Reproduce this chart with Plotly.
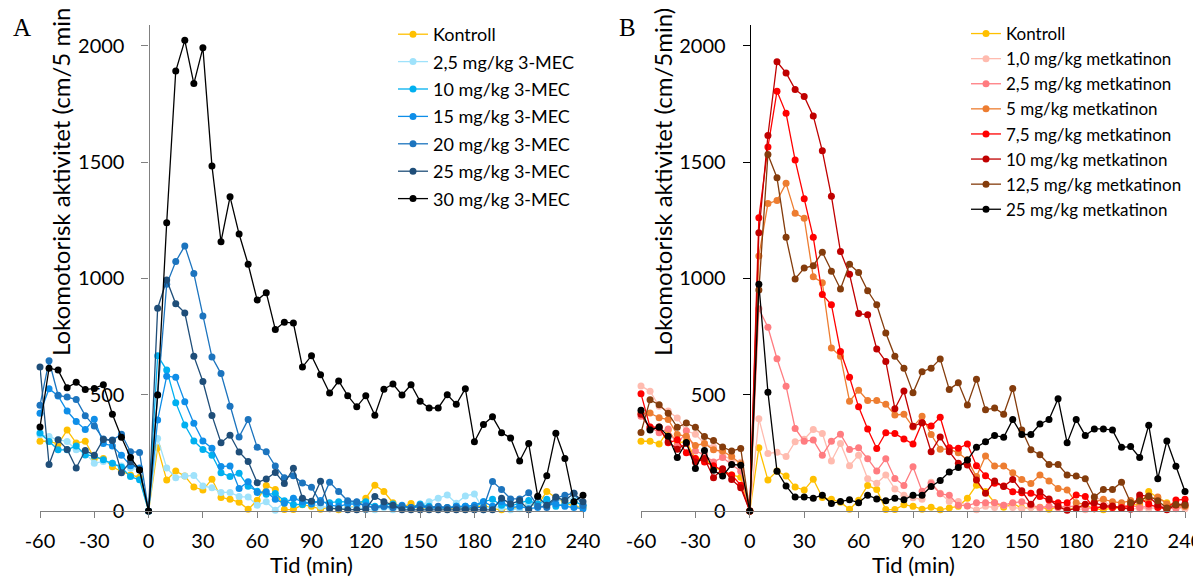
import plotly.graph_objects as go

# Tid (min), -60 .. 240 in steps of 5
tid = list(range(-60, 245, 5))
tick_vals = [-60, -30, 0, 30, 60, 90, 120, 150, 180, 210, 240]
tick_text = ["-60", "-30", "0", "30", "60", "90", "120", "150", "180", "210", "240"]

# Panel A - 3-MEC
kontroll = [300, 300, 288, 348, 292, 300, 226, 226, 190, 170, 155, 145, 0,
            272, 133, 172, 150, 103, 90, 137, 58, 50, 38,
            7, 46, 110, 92, 6, 6, 27, 20, 8, 16,
            5, 13, 20, 55, 111, 84, 36, 16, 32, 13,
            16, 16, 8, 16, 8, 13, 25, 10, 5, 13,
            13, 28, 25, 84, 57, 36, 20, 16]
mec_2_5 = [328, 320, 306, 299, 263, 249, 205, 213, 205, 194, 184, 177, 0,
           312, 185, 143, 150, 153, 108, 100, 80, 80, 62,
           60, 25, 40, 3, 40, 55, 50, 30, 20, 15,
           10, 12, 18, 5, 5, 15, 5, 15, 10, 25,
           40, 55, 69, 33, 65, 73, 5, 20, 15, 5,
           10, 30, 20, 45, 40, 55, 50, 20]
mec_10 = [335, 299, 263, 263, 280, 241, 237, 220, 205, 188, 148, 134, 0,
          668, 606, 466, 370, 301, 265, 240, 165, 148, 162,
          106, 85, 72, 75, 44, 28, 28, 41, 40, 36,
          40, 38, 38, 40, 20, 25, 30, 20, 15, 30,
          20, 15, 15, 20, 20, 15, 40, 50, 25, 20,
          35, 45, 30, 50, 20, 30, 40, 25]
mec_15 = [420, 526, 495, 430, 385, 350, 395, 290, 280, 240, 195, 185, 0,
          391, 580, 575, 470, 377, 301, 270, 191, 194, 97,
          126, 80, 83, 50, 33, 55, 40, 30, 45, 25,
          20, 30, 30, 25, 15, 20, 15, 25, 10, 20,
          10, 15, 10, 20, 20, 25, 40, 20, 40, 15,
          20, 10, 15, 25, 30, 20, 15, 10]
mec_20 = [455, 646, 498, 490, 480, 410, 365, 310, 305, 330, 255, 252, 0,
          500, 975, 1073, 1140, 1021, 839, 662, 591, 450, 318,
          393, 274, 255, 193, 143, 152, 120, 102, 36, 124,
          84, 44, 40, 20, 15, 20, 15, 20, 15, 25,
          15, 20, 15, 15, 10, 15, 15, 127, 92, 52,
          52, 79, 20, 15, 55, 68, 76, 24]
mec_25 = [619, 200, 306, 265, 185, 260, 240, 308, 303, 165, 212, 176, 0,
          872, 993, 891, 852, 666, 557, 411, 294, 326, 254,
          213, 122, 138, 166, 118, 184, 55, 42, 128, 10,
          10, 5, 5, 8, 62, 40, 25, 5, 5, 5,
          5, 5, 5, 5, 5, 5, 5, 5, 55, 30,
          45, 5, 60, 25, 60, 45, 76, 40]
mec_30 = [361, 614, 606, 530, 554, 522, 527, 543, 416, 317, 230, 176, 0,
          499, 1240, 1892, 2024, 1838, 1992, 1484, 1158, 1351, 1191,
          1061, 907, 939, 781, 812, 808, 619, 668, 586, 507,
          559, 496, 448, 496, 412, 524, 546, 499, 543, 472,
          443, 443, 500, 459, 526, 298, 372, 405, 337, 314,
          215, 290, 63, 152, 334, 226, 40, 68]

# Panel B - metkatinon
metk_1_0 = [538, 515, 450, 430, 400, 345, 330, 290, 275, 240, 220, 210, 0,
            397, 247, 253, 234, 298, 309, 350, 333, 215, 290,
            195, 240, 139, 119, 155, 95, 68, 57, 50, 124,
            76, 41, 41, 21, 5, 20, 15, 25, 15, 10,
            15, 10, 20, 15, 5, 10, 5, 60, 45, 15,
            20, 10, 10, 10, 15, 10, 15, 10]
metk_2_5 = [408, 361, 337, 353, 282, 345, 258, 242, 211, 230, 200, 171, 0,
            870, 790, 655, 537, 355, 300, 305, 240, 300, 330,
            264, 272, 225, 172, 225, 140, 110, 190, 85, 118,
            74, 68, 25, 22, 36, 36, 35, 25, 36, 40,
            25, 15, 20, 15, 20, 20, 10, 15, 20, 15,
            20, 25, 15, 20, 25, 15, 10, 20]
metk_5 = [421, 421, 401, 393, 329, 321, 282, 290, 263, 258, 234, 203, 0,
          1097, 1322, 1335, 1409, 1280, 1259, 1007, 982, 701, 665,
          472, 519, 475, 475, 459, 413, 416, 361, 408, 329,
          266, 266, 250, 220, 148, 237, 193, 194, 165, 135,
          118, 155, 129, 97, 90, 36, 28, 40, 50, 40,
          35, 45, 40, 50, 60, 30, 25, 20]
metk_7_5 = [504, 361, 361, 293, 306, 250, 226, 211, 195, 174, 155, 111, 0,
            1261, 1565, 1805, 1710, 1509, 1343, 1177, 931, 887, 686,
            575, 448, 353, 269, 337, 333, 310, 288, 380, 365,
            403, 272, 270, 288, 195, 152, 119, 108, 83, 79,
            76, 62, 47, 36, 36, 69, 62, 10, 20, 15,
            15, 20, 54, 30, 15, 10, 47, 50]
metk_10 = [416, 353, 358, 298, 266, 290, 211, 226, 143, 182, 135, 100, 0,
           1197, 1615, 1932, 1884, 1813, 1783, 1699, 1549, 1354, 1116,
           1018, 849, 844, 697, 643, 440, 516, 364, 380, 255,
           318, 255, 205, 198, 133, 76, 129, 105, 136, 87,
           29, 83, 52, 19, 3, 11, 29, 36, 22, 22,
           12, 8, 69, 62, 26, 5, 26, 30]
metk_12_5 = [338, 478, 457, 420, 360, 378, 360, 320, 303, 275, 258, 269, 0,
             950, 1533, 1433, 1177, 998, 1045, 1055, 1113, 1031, 955,
             1061, 1026, 947, 887, 765, 665, 614, 508, 599, 614,
             654, 523, 551, 456, 567, 435, 443, 416, 527, 348,
             263, 242, 200, 200, 155, 150, 139, 60, 92, 92,
             124, 36, 44, 65, 44, 13, 28, 25]
metk_25 = [433, 348, 361, 321, 230, 295, 183, 260, 175, 150, 200, 197, 0,
           975, 511, 171, 108, 60, 60, 55, 68, 32, 41,
           48, 36, 68, 52, 44, 55, 48, 68, 68, 105,
           131, 168, 187, 219, 274, 298, 325, 317, 393, 329,
           329, 374, 393, 483, 293, 393, 325, 353, 353, 348,
           274, 277, 230, 369, 139, 301, 192, 84]

series_a = [
    ("Kontroll", kontroll, "#FFC000"),
    ("2,5 mg/kg 3-MEC", mec_2_5, "#9FE2FB"),
    ("10 mg/kg 3-MEC", mec_10, "#00B0F0"),
    ("15 mg/kg 3-MEC", mec_15, "#0F8EE8"),
    ("20 mg/kg 3-MEC", mec_20, "#1C74BE"),
    ("25 mg/kg 3-MEC", mec_25, "#1F4E79"),
    ("30 mg/kg 3-MEC", mec_30, "#000000"),
]
series_b = [
    ("Kontroll", kontroll, "#FFC000"),
    ("1,0 mg/kg metkatinon", metk_1_0, "#FFBBAF"),
    ("2,5 mg/kg metkatinon", metk_2_5, "#FF7C80"),
    ("5 mg/kg metkatinon", metk_5, "#ED7D31"),
    ("7,5 mg/kg metkatinon", metk_7_5, "#FF0000"),
    ("10 mg/kg metkatinon", metk_10, "#C00000"),
    ("12,5 mg/kg metkatinon", metk_12_5, "#843C0C"),
    ("25 mg/kg metkatinon", metk_25, "#000000"),
]

font = "Lato"
fig = go.Figure()

for i, (name, vals, col) in enumerate(series_a):
    fig.add_trace(go.Scatter(x=tid, y=vals, name=name, mode="lines+markers",
                             line=dict(color=col, width=1.3), marker=dict(color=col, size=7),
                             cliponaxis=False, xaxis="x", yaxis="y",
                             legend="legend", legendgroup="a%d" % i))
for i, (name, vals, col) in enumerate(series_b):
    fig.add_trace(go.Scatter(x=tid, y=vals, name=name, mode="lines+markers",
                             line=dict(color=col, width=1.3), marker=dict(color=col, size=7),
                             cliponaxis=False, xaxis="x2", yaxis="y2",
                             legend="legend2", legendgroup="b%d" % i))

# the page body has an 8px margin, so the figure is drawn 8px in from the corner
OFF = 8
W, H = 1201 - OFF, 577 - OFF


def px(x):
    return (x - OFF) / W


def py(y):
    return 1 - (y - OFF) / H


dom_a = [px(40), px(583)]
dom_b = [px(641), px(1185)]
dom_y = [py(511), py(25)]

xax = dict(range=[-60, 240], tickvals=tick_vals, ticktext=tick_text, showgrid=False,
           zeroline=False, showline=True, linecolor="#808080", linewidth=1.3,
           ticks="outside", ticklen=6, tickcolor="#808080", ticklabelstandoff=6,
           ticklabeloverflow="allow", automargin=False,
           tickfont=dict(family=font, size=20, color="#000000"))
yax = dict(range=[0, 2090], tickvals=[0, 500, 1000, 1500, 2000], showgrid=False,
           zeroline=False, showline=True, linewidth=1.3, ticks="outside", ticklen=7,
           ticklabelstandoff=13, ticklabeloverflow="allow", automargin=False,
           tickfont=dict(family=font, size=20, color="#000000"),
           domain=dom_y, anchor="free", layer="below traces")

leg = dict(xanchor="left", yanchor="top", bgcolor="rgba(0,0,0,0)", itemwidth=30,
           traceorder="grouped")

fig.update_layout(
    width=W, height=H,
    margin=dict(l=0, r=0, t=0, b=0),
    paper_bgcolor="white", plot_bgcolor="white",
    xaxis=dict(xax, domain=dom_a, anchor="y"),
    yaxis=dict(yax, position=px(40 + 543 * 60 / 300), linecolor="#808080", tickcolor="#808080"),
    xaxis2=dict(xax, domain=dom_b, anchor="y2"),
    yaxis2=dict(yax, position=px(641 + 544 * 60 / 300), linecolor="#000000", tickcolor="#000000"),
    legend=dict(leg, x=px(393), y=py(16), tracegroupgap=1,
                font=dict(family=font, size=18, color="#000000")),
    legend2=dict(leg, x=px(966), y=py(16), tracegroupgap=0,
                 font=dict(family=font, size=17, color="#000000")),
    showlegend=True,
)

ann = []
for xc, label in [(22, "A"), (627, "B")]:
    ann.append(dict(x=px(xc), y=py(28), xref="paper", yref="paper", text=label,
                    xanchor="center", yanchor="middle", showarrow=False,
                    font=dict(family="Liberation Serif", size=25, color="#000000")))
for xc, txt in [(60, "Lokomotorisk aktivitet (cm/5 min)"), (662, "Lokomotorisk aktivitet (cm/5min)")]:
    ann.append(dict(x=px(xc), y=py(358), xref="paper", yref="paper", text=txt,
                    textangle=-90, xanchor="center", yanchor="bottom", showarrow=False,
                    font=dict(family=font, size=24, color="#000000")))
for xc in [311.5, 913]:
    ann.append(dict(x=px(xc), y=py(564), xref="paper", yref="paper", text="Tid (min)",
                    xanchor="center", yanchor="middle", showarrow=False,
                    font=dict(family=font, size=22, color="#000000")))
fig.update_layout(annotations=ann)

fig.write_html("out.html")
